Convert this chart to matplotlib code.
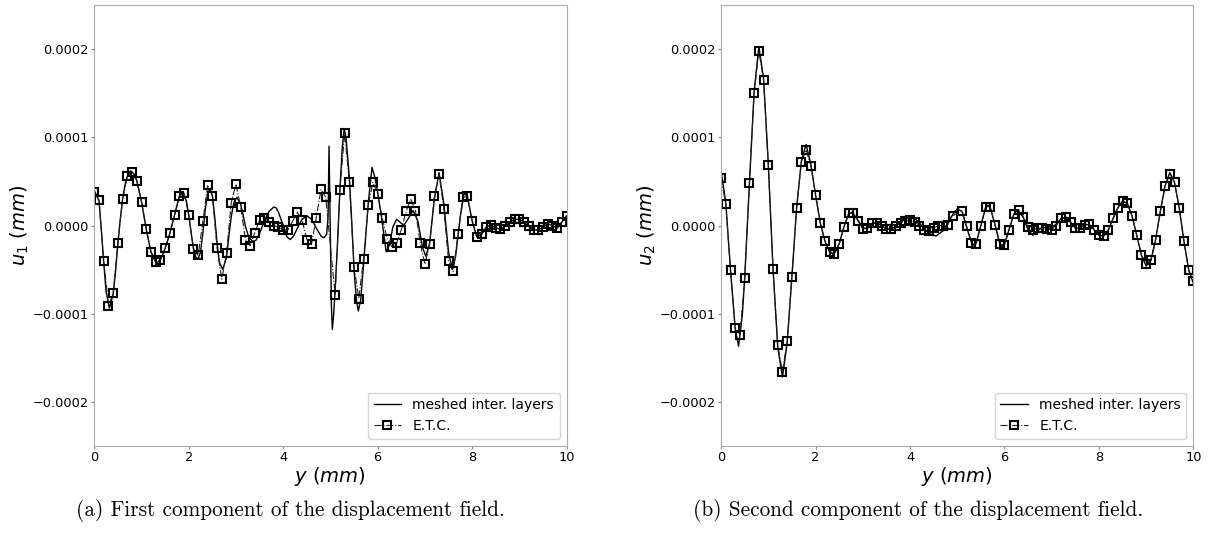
import matplotlib
matplotlib.use("Agg")
import matplotlib.pyplot as plt
import numpy as np
from matplotlib.ticker import FuncFormatter

# values are given in units of 1e-4 mm
SCALE = 1e-4

# E.T.C. samples every 0.1 mm (no sample at the interface y = 5)
y_etc = np.round(np.arange(0, 10.01, 0.1), 1)

u1_etc = [0.38, 0.29, -0.40, -0.91, -0.77, -0.20, 0.30, 0.56, 0.61, 0.51,
          0.27, -0.04, -0.30, -0.42, -0.39, -0.26, -0.09, 0.12, 0.33, 0.37,
          0.12, -0.27, -0.34, 0.05, 0.46, 0.34, -0.26, -0.61, -0.31, 0.26,
          0.47, 0.21, -0.16, -0.23, -0.08, 0.06, 0.08, 0.04, 0.00, -0.02,
          -0.05, -0.05, 0.05, 0.15, 0.06, -0.16, -0.21, 0.09, 0.41, 0.32,
          None, -0.79, 0.40, 1.05, 0.49, -0.47, -0.83, -0.38, 0.23, 0.49,
          0.36, 0.08, -0.15, -0.24, -0.20, -0.05, 0.16, 0.30, 0.17, -0.20,
          -0.44, -0.21, 0.33, 0.58, 0.19, -0.40, -0.52, -0.10, 0.32, 0.33,
          0.05, -0.13, -0.10, -0.02, 0.01, -0.03, -0.04, -0.01, 0.04, 0.07,
          0.07, 0.04, -0.01, -0.05, -0.05, -0.02, 0.02, 0.00, -0.03, 0.04,
          0.11]

u2_etc = [0.54, 0.24, -0.51, -1.16, -1.24, -0.60, 0.48, 1.50, 1.98, 1.65,
          0.69, -0.49, -1.36, -1.66, -1.31, -0.58, 0.20, 0.72, 0.86, 0.68,
          0.35, 0.03, -0.18, -0.30, -0.32, -0.21, -0.02, 0.14, 0.14, 0.05,
          -0.04, -0.03, 0.03, 0.03, 0.00, -0.04, -0.04, -0.01, 0.03, 0.05,
          0.06, 0.04, 0.00, -0.05, -0.06, -0.03, 0.00, 0.00, 0.01, 0.11,
          None, 0.17, -0.01, -0.20, -0.21, 0.00, 0.21, 0.21, 0.01, -0.21,
          -0.22, -0.05, 0.13, 0.18, 0.10, -0.02, -0.05, -0.03, -0.03, -0.04,
          -0.05, 0.00, 0.08, 0.10, 0.04, -0.03, -0.03, 0.01, 0.02, -0.05,
          -0.11, -0.12, -0.05, 0.08, 0.20, 0.28, 0.25, 0.11, -0.11, -0.33,
          -0.44, -0.39, -0.16, 0.16, 0.45, 0.58, 0.49, 0.20, -0.18, -0.51,
          -0.63]

# meshed interface layers (reference solution)
y_mesh1 = [0.0, 0.1, 0.15, 0.2, 0.25, 0.32, 0.4, 0.45, 0.5, 0.55, 0.6, 0.65, 0.7, 0.77, 0.85, 0.9,
           1.0, 1.1, 1.2, 1.32, 1.4, 1.5, 1.6, 1.7, 1.8, 1.87, 1.95, 2.0, 2.05, 2.1, 2.15, 2.2,
           2.25, 2.3, 2.35, 2.4, 2.45, 2.5, 2.55, 2.6, 2.65, 2.72, 2.8, 2.85, 2.9, 2.95, 3.02,
           3.1, 3.15, 3.2, 3.27, 3.35, 3.42, 3.5, 3.6, 3.7, 3.8, 3.85, 3.9, 4.0, 4.08, 4.15,
           4.22, 4.3, 4.4, 4.5, 4.6, 4.7, 4.8, 4.86, 4.92, 4.95, 4.97, 4.99, 5.02, 5.04, 5.07,
           5.1, 5.15, 5.2, 5.25, 5.29, 5.33, 5.4, 5.45, 5.5, 5.55, 5.59, 5.64, 5.7, 5.75, 5.8,
           5.88, 5.94, 6.0, 6.1, 6.18, 6.25, 6.32, 6.4, 6.47, 6.55, 6.65, 6.75, 6.85, 6.95,
           7.02, 7.1, 7.2, 7.3, 7.4, 7.5, 7.58, 7.65, 7.75, 7.83, 7.9, 8.0, 8.1, 8.2, 8.3, 8.4,
           8.5, 8.6, 8.7, 8.8, 8.9, 9.0, 9.1, 9.2, 9.3, 9.4, 9.5, 9.6, 9.7, 9.8, 9.9, 10.0]
u1_mesh = [0.40, 0.28, -0.05, -0.42, -0.75, -0.94, -0.78, -0.52, -0.20, 0.07, 0.30, 0.46, 0.56, 0.62, 0.58, 0.51,
           0.27, -0.04, -0.30, -0.43, -0.39, -0.26, -0.09, 0.12, 0.33, 0.38, 0.28, 0.12, -0.08, -0.26, -0.36, -0.38,
           -0.30, -0.08, 0.18, 0.36, 0.42, 0.34, 0.10, -0.20, -0.42, -0.50, -0.36, -0.12, 0.10, 0.25, 0.32,
           0.24, 0.12, -0.01, -0.13, -0.18, -0.17, -0.09, 0.05, 0.16, 0.21, 0.20, 0.15, 0.00, -0.13, -0.16,
           -0.12, -0.03, 0.07, 0.11, 0.07, -0.03, -0.12, -0.14, -0.10, 0.10, 0.90, 0.20, -0.90, -1.18, -1.00,
           -0.72, -0.20, 0.40, 0.88, 1.10, 1.00, 0.55, 0.05, -0.50, -0.85, -0.97, -0.85, -0.45, -0.10, 0.25,
           0.66, 0.55, 0.38, 0.02, -0.30, -0.22, -0.02, 0.07, 0.04, 0.00, 0.08, 0.17, 0.05, -0.25,
           -0.35, -0.20, 0.30, 0.60, 0.25, -0.30, -0.50, -0.35, 0.10, 0.37, 0.33, 0.05, -0.13, -0.10, -0.02, 0.01,
           -0.03, -0.04, -0.01, 0.04, 0.07, 0.07, 0.04, -0.01, -0.05, -0.05, -0.02, 0.02, 0.00, -0.03, 0.04, 0.11]

y_mesh2 = [0.0, 0.1, 0.2, 0.3, 0.37, 0.45, 0.5, 0.6, 0.7, 0.8, 0.9, 1.0, 1.1, 1.2, 1.3, 1.4, 1.5,
           1.6, 1.7, 1.8, 1.9, 2.0, 2.1, 2.2, 2.3, 2.38, 2.5, 2.6, 2.7, 2.78, 2.9, 3.0, 3.1, 3.2,
           3.3, 3.4, 3.5, 3.6, 3.7, 3.8, 3.9, 4.0, 4.1, 4.2, 4.3, 4.4, 4.55, 4.7, 4.8, 4.9, 5.0,
           5.1, 5.2, 5.3, 5.35, 5.4, 5.5, 5.6, 5.65, 5.7, 5.8, 5.9, 5.95, 6.0, 6.1, 6.2, 6.28, 6.4,
           6.5, 6.6, 6.7, 6.8, 6.9, 7.0, 7.1, 7.2, 7.3, 7.4, 7.5, 7.6, 7.7, 7.8, 7.9, 8.0, 8.1,
           8.2, 8.3, 8.4, 8.5, 8.6, 8.7, 8.8, 8.9, 9.0, 9.1, 9.2, 9.3, 9.4, 9.5, 9.6, 9.7, 9.8,
           9.9, 10.0]
u2_mesh = [0.62, 0.26, -0.50, -1.18, -1.37, -1.02, -0.60, 0.47, 1.52, 2.03, 1.67, 0.70, -0.49, -1.38, -1.72, -1.33, -0.58,
           0.20, 0.73, 0.92, 0.70, 0.35, 0.03, -0.18, -0.30, -0.33, -0.21, -0.02, 0.13, 0.15, 0.06, -0.03, -0.03, 0.02,
           0.03, 0.00, -0.04, -0.04, -0.01, 0.04, 0.07, 0.09, 0.08, 0.03, -0.04, -0.09, -0.12, -0.06, 0.03, 0.12, 0.19,
           0.16, -0.02, -0.19, -0.22, -0.20, 0.00, 0.20, 0.23, 0.20, 0.01, -0.20, -0.24, -0.21, -0.04, 0.13, 0.18, 0.09,
           -0.05, -0.11, -0.06, -0.02, -0.03, -0.03, 0.02, 0.08, 0.09, 0.04, -0.03, -0.03, 0.01, 0.01, -0.05, -0.11, -0.12,
           -0.05, 0.08, 0.20, 0.28, 0.25, 0.11, -0.11, -0.34, -0.46, -0.40, -0.16, 0.16, 0.45, 0.60, 0.49, 0.20, -0.18,
           -0.50, -0.66]

panels = [
    (y_mesh1, u1_mesh, u1_etc, r'$u_1\ (mm)$', '(a) First component of the displacement field.'),
    (y_mesh2, u2_mesh, u2_etc, r'$u_2\ (mm)$', '(b) Second component of the displacement field.'),
]
lefts = [0.0774, 0.5920]
cap_x = [0.2385, 0.7537]

fig = plt.figure(figsize=(12.18, 5.47), dpi=100)
fmt = FuncFormatter(lambda v, pos: ('%.4f' % v).replace('-', '\u2212'))

for (ym, um, ue, ylab, cap), left, cx in zip(panels, lefts, cap_x):
    ax = fig.add_axes([left, 0.1852, 0.3878, 0.8051])
    ax.plot(ym, np.array(um) * SCALE, color='black', lw=1.0, label='meshed inter. layers')
    ue = np.array(ue, dtype=float)
    ok = ~np.isnan(ue)
    ax.plot(y_etc[ok], ue[ok] * SCALE, color='#222222', lw=0.8, ls='-.', marker='s',
            ms=5.3, mew=1.5, mec='black', mfc='none', label='E.T.C.')
    ax.set_xlim(0, 10)
    ax.set_ylim(-0.00025, 0.00025)
    ax.set_xticks([0, 2, 4, 6, 8, 10])
    ax.set_yticks([-0.0002, -0.0001, 0, 0.0001, 0.0002])
    ax.yaxis.set_major_formatter(fmt)
    ax.tick_params(labelsize=9.3, color='#888888', length=2, pad=2)
    for s in ax.spines.values():
        s.set_color('#aaaaaa')
    ax.set_xlabel(r'$y\ (mm)$', fontsize=14, labelpad=0.5)
    ax.set_ylabel(ylab, fontsize=14, labelpad=1)
    ax.legend(loc='lower right', fontsize=10)
    fig.text(cx, 0.0676, cap, ha='center', va='center', fontsize=15.3, family='cmr10')

fig.savefig('out.png', dpi=100)
